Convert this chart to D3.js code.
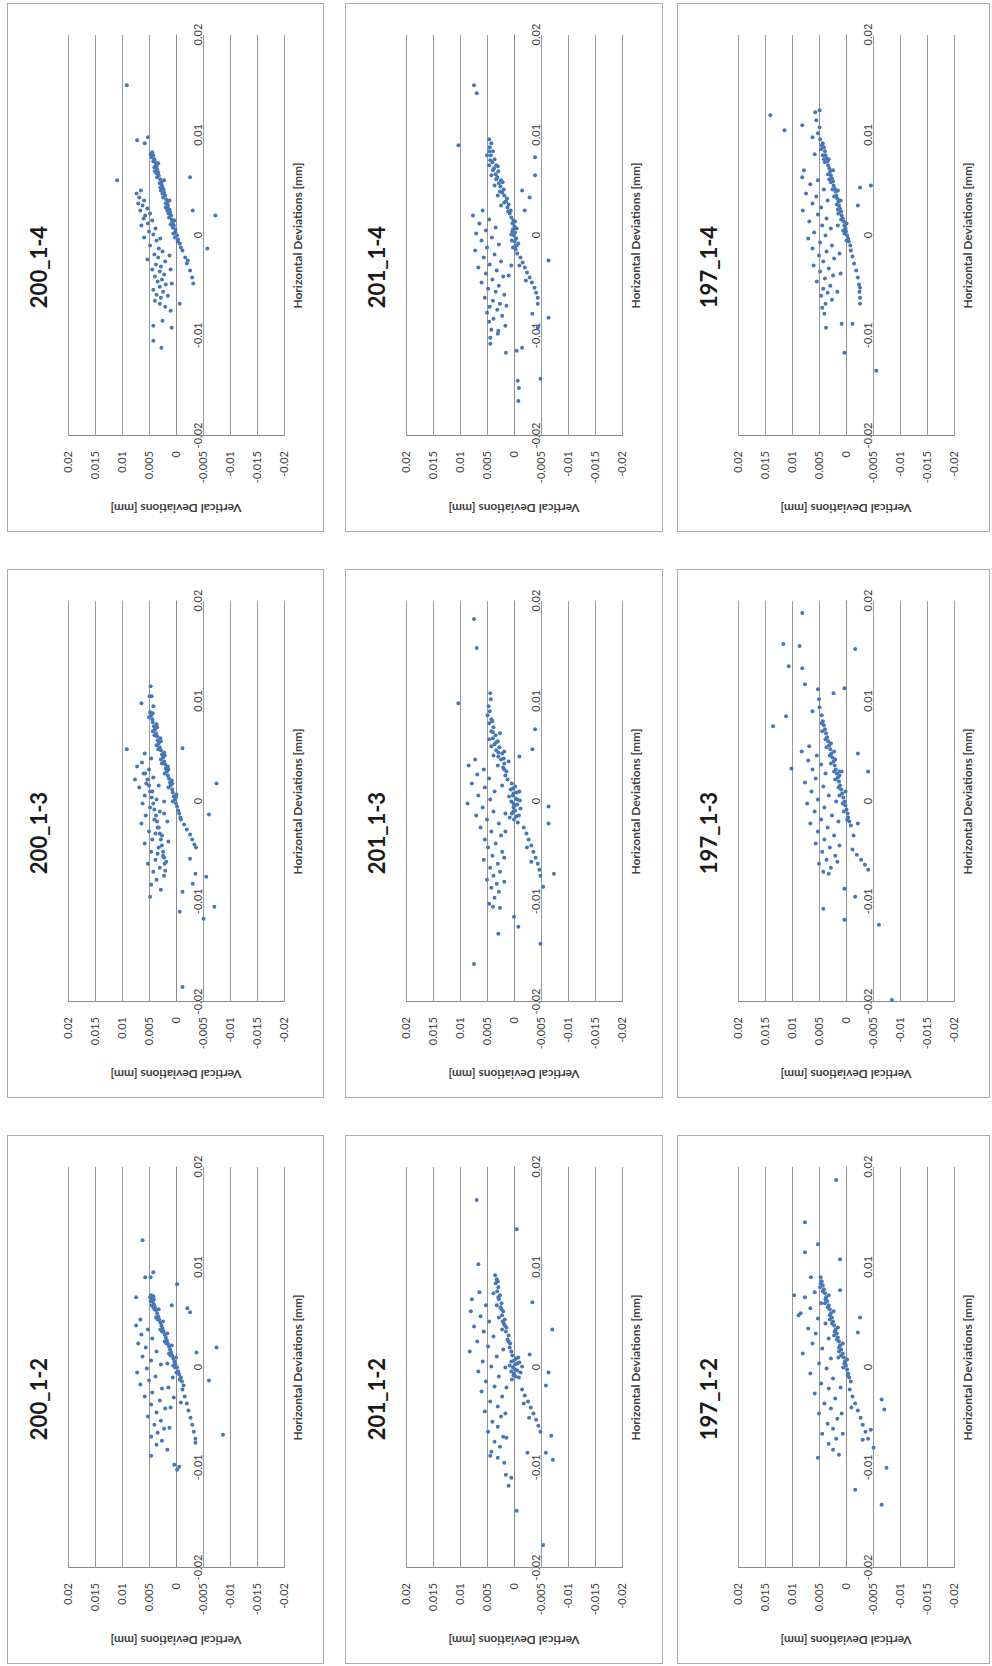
<!DOCTYPE html>
<html>
<head>
<meta charset="utf-8">
<script src="https://cdn.jsdelivr.net/npm/d3@7"></script>
<style>
  body { margin: 0; background: #fff; }
  text { font-family: Lato, "Open Sans", sans-serif; }
</style>
</head>
<body>
<svg id="chart" width="992" height="1666"></svg>
<script>

// axis ticks (mm)
var yTicks = [0.02, 0.015, 0.01, 0.005, 0, -0.005, -0.01, -0.015, -0.02];
var xTicks = [-0.02, -0.01, 0, 0.01, 0.02];

var titles = ["200_1-4", "201_1-4", "197_1-4",
              "200_1-3", "201_1-3", "197_1-3",
              "200_1-2", "201_1-2", "197_1-2"];

// measured points, [horizontal, vertical] deviation in micrometres (1/1000 mm)
var d200_14 = [[-1.2,-0.9],[-0.8,-0.7],[-0.4,-0.4],[0,-0.2],[0.3,0.1],[0.6,0.1],[1,0.4],[1.3,0.6],[1.6,0.8],[2,0.9],[2.3,1.1],[2.6,1.2],[3,1.5],[3.3,1.6],[3.6,1.8],[4,2.0],[4.3,2.2],[4.6,2.3],[5,2.6],[5.3,2.7],[5.6,2.9],[6,3.2],[6.3,3.3],[6.6,3.5],[7,3.7],[7.3,3.8],[7.6,4.0],[8,4.2],[8.3,4.4],[0.2,0.5],[1.1,1.0],[1.8,1.3],[2.8,1.9],[3.8,2.4],[4.8,2.9],[5.8,3.5],[6.8,4.0],[7.8,4.5],[1.5,0.3],[3.5,1.2],[5.5,2.2],[7.2,3.3],[2.5,1.6],[4.5,2.8],[6.4,3.9],
  [-0.6,-0.3],[0.8,0.6],[2.2,1.4],[3.2,1.9],[4.2,2.5],[5.2,3.0],[6.2,3.6],[7.4,4.2],[8.1,4.7],[-0.2,0.2],[1.4,0.7],[2.7,1.5],[4.8,2.5],[6.9,3.6],
  [4.5,6.5],[4.2,7.3],[3.8,6.8],[3.5,5.9],[3.2,7.0],[3,6.2],[2.7,5.3],[2.5,6.6],[2.2,4.8],[2,5.7],[1.7,6.0],[1.5,4.4],[1.2,5.2],[1,6.4],[0.7,3.8],[0.4,5.0],[0.1,4.2],[-0.2,5.9],[-0.5,3.6],[-0.3,2.9],
  [-1,4.8],[-1.3,3.2],[-1.6,2.5],[-1.9,4.0],[-2.2,3.3],[-2.4,5.3],[-2.6,2.0],[-2.9,3.7],[-3.1,2.8],[-3.4,4.4],[-3.6,3.0],[-3.9,2.2],[-4.1,3.9],[-4.4,2.6],[-4.6,3.4],[-4.9,1.9],[-5.1,3.0],[-5.4,4.2],[-5.6,2.4],[-5.9,3.6],[-6.2,2.8],[-6.5,3.9],[-6.8,3.0],[-7.1,2.0],[-2,1.2],[-3.4,1.0],[-4.8,0.8],[-6,1.5],
  [-1.5,-1.2],[-2.2,-1.7],[-2.8,-2.0],[-3.5,-2.6],[-4.2,-3.0],[-4.8,-3.2],
  [15,9.1],[5.5,10.9],[9.5,7.2],[9.8,5.2],[9.2,5.8],[5.8,-2.6],[2.5,-3.1],[2,-7.3],[-1.3,-5.8],[-9,4.2],[-10.5,4.2],[-11.2,2.7],[-9.2,0.8],[-6.8,-0.7],[-2.5,-2.2],[-7.5,1.0],[-8.5,2.5]];

var d201_14 = [[-1.8,-0.6],[-1.4,-0.3],[-1,-0.5],[-0.6,-0.1],[-0.3,-0.4],[0,0],[0.3,-0.2],[0.6,0.2],[0.9,-0.1],[1.2,0.3],[1.5,0.1],[1.8,0.5],[-1.2,0.2],[0.1,0.5],[-0.8,-0.8],[0.7,-0.5],[-1.1,-0.2],[0.4,0.3],[-0.5,0.4],[1.4,-0.2],
  [2.2,0.8],[2.5,0.6],[2.8,1.2],[3.1,1.0],[3.4,1.5],[3.7,1.3],[4,1.8],[4.3,2.2],[4.6,1.9],[4.9,2.5],[5.2,2.8],[5.5,2.4],[5.8,3.1],[6.1,3.4],[6.4,2.9],[6.7,3.7],[7,3.3],[7.3,4.0],[7.6,3.6],[8,4.3],[8.4,3.9],[8.8,4.5],[9.2,4.2],[9.6,4.6],[5,3.6],[6,4.2],[7,4.6],[4,3.0],[3,2.4],[8,5.0],
  [4.4,2.6],[5.6,3.3],[6.5,3.9],[7.5,4.4],[8.4,4.6],[5.3,2.1],[6.9,3.0],[3.3,1.8],[2.4,1.1],
  [2.5,5.8],[2,7.6],[1.6,4.6],[1.2,6.4],[0.8,3.4],[0.5,5.2],[0.2,7.0],[-0.2,4.1],[-0.5,6.0],[-0.9,2.8],[-1.2,5.0],[-1.5,7.2],[-1.9,3.6],[-2.2,5.6],[-2.6,2.4],[-2.9,4.5],[-3.2,6.6],[-3.5,3.2],[-3.8,5.2],[-4.1,2.0],[-4.4,4.0],[-4.7,6.0],[-5,2.8],[-5.3,4.8],[-5.6,3.4],[-5.9,1.8],[-6.2,5.4],[-6.5,3.9],[-6.8,2.6],[-7.1,4.5],[-7.4,3.1],[-7.7,5.0],[-8,2.2],[-8.3,3.8],[-8.6,4.6],[-9,1.6],[-9.4,4.2],[-9.8,3.0],[-10.2,4.4],[-10.8,4.4],[-7,1.4],[-4,1.0],[-3,0.5],
  [-2.2,-1.2],[-2.7,-1.6],[-3.2,-2.0],[-3.7,-2.4],[-4.2,-2.9],[-4.7,-3.3],[-5.2,-3.8],[-5.7,-4.1],[-6.2,-4.4],[-3,-1.0],[-4.5,-2.2],
  [15,7.4],[14.2,6.9],[9,10.3],[7.8,-3.9],[6,-3.9],[4.5,-1.5],[3.8,-2.9],[2.5,-2],[-2.5,-6.4],[-6.8,-4.4],[-7.8,-3.4],[-8.2,-6.4],[-9.2,-4.4],[-11.5,-0.5],[-11.7,1.5],[-11.2,-1.5],[-14.5,-0.7],[-15.2,-0.9],[-16.5,-0.8],[-14.3,-4.9],[-9.5,2.9]];

var d197_14 = [[-1,-0.8],[-0.6,-0.5],[-0.3,-0.4],[0,-0.2],[0.4,0],[0.7,0.1],[1,0.3],[1.4,0.4],[1.7,0.6],[2,0.8],[2.4,0.9],[2.7,1.1],[3,1.3],[3.4,1.4],[3.7,1.6],[4,1.8],[4.4,1.9],[4.7,2.1],[5,2.3],[5.4,2.4],[5.7,2.6],[6,2.8],[6.4,2.9],[6.7,3.1],[7,3.3],[7.4,3.4],[7.7,3.6],[8,3.8],[8.4,3.9],[8.8,4.1],[9.2,4.3],[0.5,0.5],[2.2,1.4],[3.9,2.2],[5.6,3.1],[7.3,3.9],[8.6,4.6],[1.2,-0.1],[4.5,1.5],[6.5,2.4],
  [0.2,0.3],[1.6,0.9],[3.1,1.7],[4.6,2.5],[6.1,3.3],[7.6,4.1],[9,4.5],[2.6,1.5],[5.3,2.8],[8,4.3],[-0.5,-0.1],
  [9.6,4.8],[10.2,5.2],[10.8,4.9],[11.5,5.5],[12.3,5.7],[9.8,6.2],[12,14],[10.5,11.4],[11,8.1],[12.5,4.9],
  [6.5,7.8],[5.8,8.1],[5.5,5.2],[5.1,6.6],[4.6,4.1],[4.2,7.4],[3.9,5.5],[3.5,3.4],[3.2,6.2],[2.8,4.6],[2.5,8.0],[2.1,5.2],[1.7,3.6],[1.4,6.8],[1,4.4],[0.7,2.8],[0.3,5.9],[0,3.8],[-0.3,7.0],[-0.7,4.8],[-1,2.6],[-1.3,6.2],[-1.6,3.6],[-2,5.0],[-2.3,2.2],[-2.6,4.2],[-3,6.0],[-3.3,3.2],[-3.6,4.8],[-4,2.4],[-4.3,3.9],[-4.6,5.4],[-5,2.9],[-5.3,4.2],[-5.7,3.4],[-6,4.6],[-6.4,2.6],[-6.8,3.8],[-7.2,4.4],[-7.8,4.0],[-1.8,1.2],[-3.8,1.0],[-5.6,1.6],[1,1.5],[7.6,3.2],[8.1,5.8],[3.5,1.0],
  [-1.5,-0.9],[-2.1,-1.2],[-2.8,-1.5],[-3.5,-1.9],[-4.2,-2.2],[-4.9,-2.4],[-5.6,-2.5],[-6.2,-2.6],
  [4.8,-2.6],[5,-4.6],[3,-2.2],[-6.8,-2.6],[-8.8,0.8],[-8.8,-1.2],[-9.2,3.7],[-11.7,0.3],[-13.5,-5.6],[-5.2,-2.6]];

var d200_13 = [[-1.6,-0.8],[-1.2,-0.6],[-0.9,-0.4],[-0.5,-0.2],[-0.2,0],[0.2,0.2],[0.5,0.4],[0.9,0.6],[1.2,0.7],[1.6,1.0],[1.9,1.1],[2.3,1.3],[2.6,1.5],[3,1.7],[3.3,1.9],[3.7,2.0],[4,2.2],[4.4,2.4],[4.7,2.6],[5.1,2.8],[5.4,3.0],[5.8,3.2],[6.1,3.4],[6.5,3.5],[6.8,3.7],[7.2,3.9],[7.5,4.1],[7.9,4.3],[8.2,4.4],[8.6,4.6],[8.9,4.8],[0,0.6],[1.4,1.4],[2.8,2.1],[4.2,2.8],[5.6,3.6],[7,4.3],[8.4,5.0],[0.7,-0.1],[2.1,0.8],[3.5,1.5],[4.9,2.2],[6.3,2.9],[7.7,3.6],[3.8,2.6],[5.2,3.3],[6.6,4.0],
  [0.4,0.0],[1.8,0.7],[3.2,1.4],[4.6,2.1],[6,2.8],[7.4,3.5],[8.8,4.3],[10.5,4.9],
  [11.5,4.7],[9.8,6.4],[9.5,4.2],[10.5,4.5],
  [2.8,5.7],[2.2,5.3],[1.6,5.0],[1,4.8],[0.4,4.5],[-0.2,4.2],[-0.8,4.0],[-1.4,3.7],[-2,3.5],[-2.6,3.2],[-3.2,3.0],[-3.8,2.8],[-4.4,2.6],[-5,2.4],[-5.6,2.2],[-6.2,2.1],[-6.9,2.0],
  [5.2,9.1],[3.5,7.2],[2.2,7.6],[4.8,5.8],[4.3,4.6],[3.9,6.3],[3.2,5.0],[2.8,6.0],[2.4,4.2],[1.8,5.5],[1.4,6.8],[1,4.4],[0.6,5.8],[0.2,3.6],[-0.2,6.2],[-0.6,4.8],[-1,3.0],[-1.4,5.6],[-1.8,4.0],[-2.2,6.4],[-2.6,3.4],[-3,5.0],[-3.4,2.6],[-3.8,4.4],[-4.2,5.8],[-4.6,3.2],[-5,4.6],[-5.4,2.4],[-5.8,3.8],[-6.2,5.2],[-6.6,3.0],[-7,4.2],[-7.4,2.2],[-7.8,3.6],[-8.3,4.6],[-8.8,2.8],[-9.5,4.8],[-2,1.6],[-4,1.4],[-6,1.8],[0,2.2],[-1.2,2.2],[-3.2,3.8],[-5.2,3.4],[1.6,3.2],
  [-1.8,-0.9],[-2.3,-1.5],[-2.8,-2.0],[-3.3,-2.6],[-3.8,-3.0],[-4.3,-3.4],[-4.6,-3.7],
  [5.3,-1.2],[1.8,-7.5],[-1.3,-6.1],[-5.7,-2.6],[-7.2,-3.6],[-7.5,-5.6],[-8.2,-3.1],[-9,-1.2],[-11,-0.7],[-10.5,-7.1],[-11.7,-5.1],[-18.5,-1.2]];

var d201_13 = [[1.8,0.4],[1.5,-0.2],[1.2,0.6],[0.9,-0.5],[0.6,0.2],[0.3,-0.3],[0,0.5],[-0.3,-0.6],[-0.6,0.1],[-0.9,-0.2],[-1.2,0.4],[-1.5,-0.4],[-1.8,0],[-2.1,-0.7],[0.1,-1.1],[-0.7,-1.2],[1,-1],[-1.6,0.8],[0.5,0.9],[-0.2,0.1],
  [0.8,0.1],[-0.4,-0.1],[-1,0.1],[1.3,0.2],[0.2,-0.6],[-1.4,-0.9],
  [2.2,1.2],[2.6,1.6],[3,1.4],[3.4,2.0],[3.8,1.8],[4.2,2.4],[4.5,2.9],[4.8,2.2],[5.1,3.3],[5.4,2.7],[5.7,3.6],[6,3.0],[6.3,3.9],[6.6,3.4],[7,4.2],[7.4,3.8],[7.8,4.6],[8.2,4.2],[8.6,4.9],[9,4.5],[9.5,4.7],[10.2,4.3],[10.8,4.4],[4.6,3.8],[5.5,4.2],[6.2,4.6],[3.6,3.0],[5.0,1.8],[6.8,2.6],[4,1.0],
  [4.9,2.9],[5.9,3.3],[6.9,3.9],[4.3,1.9],[3.2,1.8],[8,4.0],
  [4.2,7.2],[3.6,8.4],[3.2,5.6],[2.7,6.8],[2.3,4.6],[1.8,7.8],[1.4,5.4],[1,3.6],[0.6,6.6],[0.2,4.4],[-0.2,8.6],[-0.6,5.8],[-1,3.8],[-1.4,7.0],[-1.8,5.0],[-2.2,2.8],[-2.6,6.2],[-3,4.2],[-3.4,2.4],[-3.8,5.4],[-4.2,3.4],[-4.6,4.8],[-5,2.2],[-5.4,4.0],[-5.8,5.6],[-6.2,3.0],[-6.6,4.4],[-7,2.6],[-7.4,3.8],[-7.8,5.0],[-8.2,3.2],[-8.6,4.2],[-9,2.8],[-9.6,3.6],[-10.2,4.6],[-10.6,2.6],[-3,1.6],[-5.6,1.8],[-8,1.8],[1.6,2.2],[-1.2,1.6],
  [-2.6,-1.8],[-3.2,-2.3],[-3.8,-2.7],[-4.4,-3.2],[-5,-3.6],[-5.6,-4.0],[-6.2,-4.4],[-6.8,-4.7],[-7.4,-4.9],[-4.6,-2.4],[-6,-3.2],
  [18.2,7.4],[15.3,6.9],[9.8,10.3],[7.2,-3.9],[5.2,-3.4],[4.5,-1.0],[-0.5,-6.4],[-2.2,-6.4],[-7.2,-7.4],[-8.5,-5.4],[-11.5,0],[-13.2,2.9],[-14.2,-4.9],[-16.2,7.4],[-10.5,3.9],[-12.5,-0.8]];

var d197_13 = [[-2.4,-0.9],[-2,-0.6],[-1.6,-0.4],[-1.2,-0.3],[-0.8,-0.1],[-0.4,0.1],[0,0.3],[0.4,0.5],[0.8,0.7],[1.2,0.9],[1.6,1.1],[2,1.3],[2.4,1.5],[2.8,1.7],[3.2,1.9],[3.6,2.1],[4,2.3],[4.4,2.5],[4.8,2.7],[5.2,2.9],[5.6,3.1],[6,3.3],[6.4,3.5],[6.8,3.7],[7.2,3.9],[7.6,4.1],[8,4.3],[-1,0.4],[0.6,1.2],[2.2,2.0],[3.8,2.8],[5.4,3.6],[7,4.4],[8.6,4.5],[9.4,4.9],[10.2,5.0],[11.2,5.2],[1,0.1],[3,1.2],[5,2.2],
  [-1.8,-0.2],[-0.2,0.6],[1.4,1.4],[3,2.2],[4.6,3.0],[6.2,3.8],[7.8,4.5],[2.6,1.2],[4.2,2.0],[5.8,2.8],
  [5.5,6.8],[5,8.2],[4.6,5.4],[4.1,7.0],[3.7,4.6],[3.2,6.2],[2.8,3.8],[2.3,5.6],[1.9,7.6],[1.5,4.2],[1,6.4],[0.6,3.2],[0.2,5.2],[-0.2,7.2],[-0.6,4.0],[-1,5.8],[-1.4,2.6],[-1.8,4.6],[-2.2,6.6],[-2.6,3.4],[-3,5.2],[-3.4,2.2],[-3.8,4.0],[-4.2,5.6],[-4.6,3.0],[-5,4.4],[-5.4,2.0],[-5.8,3.6],[-6.2,5.0],[-6.6,2.8],[-7,4.2],[-7.2,3.2],[-2,1.4],[-4.4,1.2],[0,1.8],[3,0.8],[-6,1.6],
  [-4.8,-1.2],[-5.3,-2.0],[-5.8,-2.8],[-6.3,-3.5],[-6.8,-4.1],[-3.4,-1.4],
  [18.8,8.1],[15.7,11.6],[15.5,8.6],[15.2,-1.7],[13.5,10.6],[13.3,8.1],[11.7,7.6],[11.3,0.3],[10.8,2.3],[8.5,11.1],[7.5,13.5],[9,6.2],[3.3,10.1],
  [4.8,-2.2],[3,-4.1],[-2.2,-2.2],[-8.7,0.3],[-9.5,-1.7],[-10.7,4.2],[-11.8,0.3],[-12.3,-6.1],[-19.8,-8.5]];

var d200_12 = [[-1.8,-1.4],[-1.4,-1.1],[-1,-0.9],[-0.7,-0.6],[-0.4,-0.4],[0,-0.2],[0.3,0.1],[0.6,0.3],[0.9,0.5],[1.2,0.7],[1.5,0.9],[1.8,1.1],[2.1,1.3],[2.4,1.5],[2.7,1.7],[3,1.9],[3.3,2.1],[3.6,2.3],[3.9,2.5],[4.2,2.7],[4.5,2.9],[4.8,3.1],[5.1,3.3],[5.4,3.5],[5.7,3.7],[6,3.9],[6.3,4.1],[6.6,4.3],[6.9,4.5],[7.1,4.2],[7,4.8],[6.6,4.7],[0.2,0.5],[1.4,1.3],[2.6,2.1],[3.8,2.9],[5,3.7],[6.2,4.5],[1,0],[2.2,0.8],[3.4,1.6],[4.6,2.4],[5.8,3.2],
  [-1.2,-0.7],[0,0.2],[1.2,1.0],[2.4,1.8],[3.6,2.6],[4.8,3.4],[6,4.2],[6.8,4.1],[7.2,4.6],[-0.5,-0.1],
  [12.7,6.2],[9,5.7],[9,4.7],[9.5,4.2],[7,7.4],[8.3,-0.2],[6.2,0.8],[5.5,-2.6],[5.9,-2.1],[5.8,4.0],
  [4.8,6.6],[4.2,7.4],[3.8,5.2],[3.3,6.4],[2.9,4.4],[2.4,7.0],[2,5.6],[1.6,3.6],[1.1,6.2],[0.7,4.6],[0.3,2.8],[-0.1,5.4],[-0.5,7.2],[-0.9,3.8],[-1.3,5.0],[-1.7,6.6],[-2.1,2.6],[-2.5,4.4],[-2.9,5.8],[-3.3,3.0],[-3.7,4.6],[-4.1,2.0],[-4.5,3.6],[-4.9,5.2],[-5.3,2.8],[-5.7,4.0],[-6.1,2.2],[-6.5,3.4],[-6.9,4.6],[-7.3,2.6],[-7.7,3.6],[-8.2,1.6],[-8.8,4.6],[-2,1.4],[-4,1.0],[-6,1.2],[0.4,1.6],[-1,0.6],[-3,0.4],
  [-2.2,-1.2],[-2.9,-1.6],[-3.6,-2.0],[-4.3,-2.3],[-5,-2.7],[-5.7,-3.0],[-6.4,-3.3],[-7.1,-3.6],[-3.5,-0.9],
  [2,-7.5],[1.5,-3.8],[-1.3,-6.1],[-6.7,-8.7],[-7.5,-3.6],[-9.7,0.3],[-10.2,-0.2],[-9.9,-0.6]];

var d201_12 = [[1.2,0.3],[0.9,-0.4],[0.6,0.5],[0.3,-0.2],[0,0.2],[-0.3,-0.6],[-0.6,0],[-0.9,-0.3],[-1.2,0.4],[0.5,-1],[-0.5,-1.2],[0.1,-1.5],[-1,-0.9],[1,-0.8],[0.2,0.8],[-0.2,-0.2],
  [0.7,0],[-0.8,0.1],[0.4,-0.6],[-0.4,0.5],
  [1.6,0.5],[2,0.8],[2.4,0.7],[2.8,1.2],[3.2,1.0],[3.6,1.5],[4,1.4],[4.4,1.9],[4.8,1.7],[5.2,2.2],[5.6,2.0],[6,2.5],[6.4,2.3],[6.8,2.8],[7.2,2.6],[7.6,3.1],[8,2.9],[8.4,3.4],[8.8,3.2],[9.2,3.5],[5,2.8],[6.2,3.2],[7.4,3.8],[3.8,2.2],
  [2.6,1.0],[4.2,1.7],[5.8,2.3],[7.0,2.9],[8.6,3.0],[4.6,2.1],
  [7.5,6.4],[6.8,7.8],[6.2,5.2],[5.6,8.0],[5.1,6.2],[4.6,4.6],[4.1,7.4],[3.6,5.6],[3.1,3.8],[2.6,6.8],[2.1,4.8],[1.6,8.2],[1.1,3.2],[0.6,5.8],[0.1,4.2],[-0.4,6.6],[-0.9,2.8],[-1.4,5.2],[-1.9,3.6],[-2.4,6.0],[-2.9,2.2],[-3.4,4.4],[-3.9,3.0],[-4.4,5.4],[-4.9,2.4],[-5.4,4.0],[-5.9,3.0],[-6.4,4.8],[-6.9,2.0],[-7.4,3.6],[-7.9,2.6],[-8.4,4.2],[-9,3.0],[-9.5,1.8],[-2,1.4],[-4.6,1.6],[-7,1.4],[1.8,2.0],[0,1.6],
  [-2.2,-1.5],[-2.8,-2.0],[-3.4,-2.6],[-4,-3.1],[-4.6,-3.6],[-5.2,-4.1],[-5.8,-4.5],[-6.4,-4.9],[-3.6,-1.8],[-5,-2.8],
  [16.7,6.9],[13.8,-0.5],[10.3,6.6],[6.5,-3.4],[3.8,-7.1],[1.3,-2.9],[-0.5,-6.4],[-1.8,-5.9],[-6.8,-6.9],[-8.5,-5.9],[-9.2,-7.2],[-8.5,-2.5],[-10.7,1.5],[-11,0.5],[-11.8,1],[-14.3,-0.5],[-17.7,-5.4],[-8.8,4.4]];

var d197_12 = [[-1.4,-0.9],[-1,-0.6],[-0.6,-0.4],[-0.2,-0.2],[0.2,0],[0.6,0.2],[1,0.4],[1.4,0.6],[1.8,0.9],[2.2,1.1],[2.6,1.3],[3,1.5],[3.4,1.7],[3.8,1.9],[4.2,2.2],[4.6,2.4],[5,2.6],[5.4,2.8],[5.8,3.0],[6.2,3.2],[6.6,3.5],[7,3.7],[7.4,3.9],[7.8,4.1],[8.2,4.3],[8.6,4.5],[9,4.7],[0,0.5],[1.6,1.3],[3.2,2.2],[4.8,3.0],[6.4,3.9],[8,4.8],[0.8,-0.2],[2.4,0.6],[4,1.5],[5.6,2.3],[7.2,3.2],
  [-0.8,-0.3],[0.4,0.3],[1.2,0.9],[2,1.3],[2.8,1.7],[3.6,2.1],[4.4,2.6],[5.2,3.0],[6,3.4],[6.8,3.8],[7.6,4.3],[8.4,4.7],
  [7.5,5.8],[7,7.6],[6.4,4.6],[5.9,6.6],[5.4,8.4],[4.9,5.2],[4.4,3.8],[3.9,7.0],[3.4,5.6],[2.9,3.2],[2.4,6.2],[1.9,4.4],[1.4,8.0],[0.9,2.8],[0.4,5.0],[-0.1,3.6],[-0.6,6.6],[-1.1,2.4],[-1.6,4.6],[-2.1,3.2],[-2.6,5.8],[-3.1,2.0],[-3.6,4.0],[-4.1,2.8],[-4.6,5.0],[-5.1,1.6],[-5.6,3.4],[-6.1,2.4],[-6.6,4.4],[-7.1,1.8],[-7.6,3.2],[-8.2,2.4],[-2,1.0],[-4.6,0.8],[1,1.4],[-6.6,0.6],
  [-2.2,-0.7],[-2.9,-1.2],[-3.6,-1.7],[-4.3,-2.2],[-5,-2.7],[-5.7,-3.1],[-6.4,-3.6],[-7.1,-4.1],[-4,-1.0],
  [18.7,1.8],[14.5,7.6],[12.3,5.2],[11.5,7.6],[10.8,1.1],[9,6.5],[7.7,1.1],[7.2,9.6],[5.2,8.8],[5,-2.6],[3.5,-2.2],[-4.2,-7.1],[-3.2,-6.6],[-6.2,-4.6],[-7.2,-3.1],[-8,-5.1],[-10,-7.5],[-12.2,-1.7],[-13.7,-6.6],[-8.7,1.3],[-9,5.2]];

var panelData = [d200_14, d201_14, d197_14,
                 d200_13, d201_13, d197_13,
                 d200_12, d201_12, d197_12];

// page layout: each panel is an Excel-style chart turned by -90 degrees
var colLeft = [7, 345, 677];
var colWidth = [316, 317, 312];
var rowTop = [3, 569, 1135];
var panelH = 528;

var svg = d3.select('#chart');

// scales in the un-rotated chart frame (width panelH, height ~316)
var x = d3.scaleLinear().domain([-0.02, 0.02]).range([95, 496]);
var y = d3.scaleLinear().domain([-0.02, 0.02]).range([277, 61]);

var gridColor = '#999999';
var textColor = '#3f3f3f';

function drawPanel(i) {

    var row = Math.floor(i / 3);
    var col = i % 3;
    var px = colLeft[col];
    var py = rowTop[row];

    // panel frame
    svg.append('rect')
        .attr('x', px + 0.5)
        .attr('y', py + 0.5)
        .attr('width', colWidth[col])
        .attr('height', panelH)
        .attr('fill', 'none')
        .attr('stroke', '#ababab')
        .attr('stroke-width', 1);

    var g = svg.append('g')
        .attr('transform', 'translate(' + px + ',' + (py + panelH) + ') rotate(-90)');

    // y axis + gridlines
    var yAxis = g.append('g')
        .attr('transform', 'translate(' + x.range()[0] + ',0)')
        .call(d3.axisLeft(y)
            .tickValues(yTicks)
            .tickSizeInner(-(x.range()[1] - x.range()[0]))
            .tickSizeOuter(0)
            .tickPadding(15)
            .tickFormat(function(d) { return String(d); }));
    yAxis.select('.domain').attr('stroke', '#8a8a8a');
    yAxis.selectAll('.tick line').attr('stroke', gridColor).attr('stroke-width', 1);
    yAxis.selectAll('.tick text')
        .attr('fill', textColor)
        .attr('font-size', '11px');

    // x axis crossing at zero
    var xAxis = g.append('g')
        .attr('transform', 'translate(0,' + y(0) + ')')
        .call(d3.axisBottom(x)
            .tickValues(xTicks)
            .tickSize(0)
            .tickPadding(18)
            .tickFormat(function(d) { return String(d); }));
    xAxis.select('.domain').attr('stroke', '#8a8a8a');
    xAxis.selectAll('.tick text')
        .attr('fill', textColor)
        .attr('font-size', '11px');

    // points
    g.append('g')
        .selectAll('circle')
        .data(panelData[i])
      .enter()
        .append('circle')
        .attr('cx', function(d) { return x(d[0] / 1000); })
        .attr('cy', function(d) { return y(d[1] / 1000); })
        .attr('r', 2.0)
        .attr('fill', '#4677b8');

    // title
    g.append('text')
        .text(titles[i])
        .attr('x', 264)
        .attr('y', 31)
        .attr('text-anchor', 'middle')
        .attr('dominant-baseline', 'central')
        .attr('font-size', '22px')
        .attr('font-weight', 'bold')
        .attr('fill', '#1a1a1a');

    // axis titles
    g.append('text')
        .text('Horizontal Deviations [mm]')
        .attr('x', (x.range()[0] + x.range()[1]) / 2)
        .attr('y', 290)
        .attr('text-anchor', 'middle')
        .attr('dominant-baseline', 'central')
        .attr('font-size', '12px')
        .attr('font-weight', 'bold')
        .attr('fill', textColor);

    g.append('text')
        .text('Vertical Deviations [mm]')
        .attr('transform', 'translate(23,' + ((y.range()[0] + y.range()[1]) / 2) + ') rotate(-90)')
        .attr('text-anchor', 'middle')
        .attr('dominant-baseline', 'central')
        .attr('font-size', '12px')
        .attr('font-weight', 'bold')
        .attr('fill', textColor);
}

for (var i = 0; i < 9; i++) {
    drawPanel(i);
}

</script>
</body>
</html>
